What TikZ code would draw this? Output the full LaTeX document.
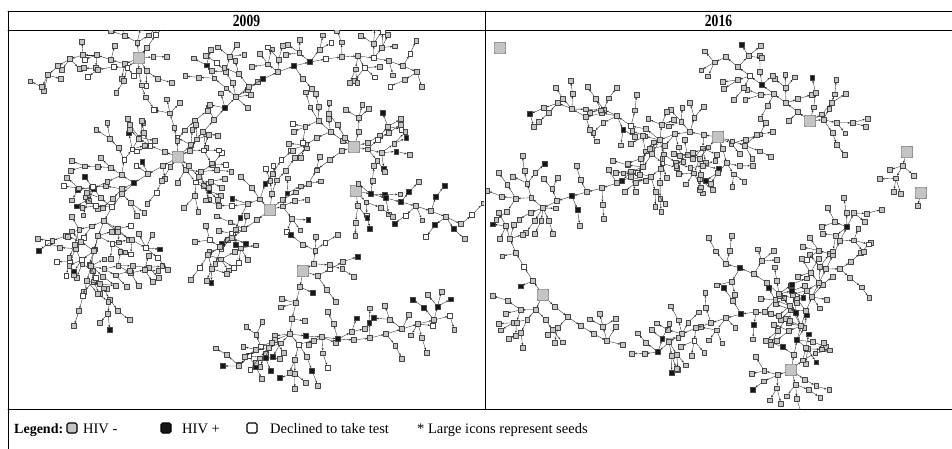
\documentclass[tikz,border=0pt]{standalone}
\usepackage{fontspec}
\setmainfont{Liberation Serif}
\usepackage{graphicx}
\usetikzlibrary{arrows.meta}

\definecolor{negfill}{RGB}{196,196,196}
\definecolor{posfill}{RGB}{22,22,22}
\definecolor{nodeline}{RGB}{70,70,70}

\tikzset{
  rds/.style={draw=nodeline,line width=.4pt,minimum size=4.8pt,inner sep=0pt,fill=negfill},
  seedsq/.style={rds,minimum size=11.5pt,rounded corners=1pt},
  link/.style={draw=black!85,line width=.35pt,-{Stealth[length=2.3pt,width=1.9pt]}},
  frame/.style={line width=.8pt},
  yearhead/.style={font=\fontsize{17}{17}\selectfont\bfseries},
  legbox/.style={draw=black,line width=1.1pt,rounded corners=1.6pt,minimum size=10pt,inner sep=0pt},
  legtext/.style={anchor=base west,inner sep=0pt,font=\fontsize{14.5}{15}\selectfont}
}

\newcounter{rdsnode}
% fill of a recruit: #1 share HIV+, #2 share declined
\newcommand\pickfill[2]{%
  \pgfmathsetmacro\rr{rnd}%
  \ifdim\rr pt<#1pt \def\fc{posfill}%
  \else\ifdim\rr pt<\dimexpr#1pt+#2pt\relax \def\fc{white}%
  \else \def\fc{negfill}\fi\fi}
% recruitment waves: #1 recruiter, #2 x, #3 y, #4 heading, #5 waves, #6 HIV+, #7 declined
\newcommand\recruit[7]{%
  \ifnum#5>0
    \ifnum#5>2 \pgfmathrandominteger\nk{1}{5}%
      \ifnum\nk>3 \pgfmathrandominteger\nk{1}{2}\fi
    \else \pgfmathrandominteger\nk{0}{4}\ifnum\nk=4 \def\nk{1}\fi\fi
    \ifnum\nk>0
      \foreach \k in {1,...,\nk}{%
        \stepcounter{rdsnode}\edef\me{r\arabic{rdsnode}}%
        \pgfmathsetmacro\na{#4+55*(\k-(\nk+1)/2)+20*rand}%
        \pgfmathsetmacro\nl{12.5+4*rnd}%
        \pgfmathsetmacro\nx{#2+\nl*cos(\na)}%
        \pgfmathsetmacro\ny{#3+\nl*sin(\na)}%
        \pickfill{#6}{#7}%
        \node[rds,fill=\fc] (\me) at (\nx,\ny) {};
        \draw[link] (#1) -- (\me);
        \edef\next{\noexpand\recruit{\me}{\nx}{\ny}{\na}{\the\numexpr#5-1\relax}{#6}{#7}}\next
      }%
    \fi
  \fi}
% chain of recruits through fixed points: #1 start node, #2 x, #3 y, #4 points, #5 side waves, #6 HIV+, #7 declined
\newcommand\spine[7]{%
  \xdef\prev{#1}\xdef\px{#2}\xdef\py{#3}%
  \foreach \sx/\sy [count=\si] in {#4}{%
    \stepcounter{rdsnode}\edef\me{r\arabic{rdsnode}}%
    \pickfill{#6}{#7}%
    \node[rds,fill=\fc] (\me) at (\sx,\sy) {};
    \draw[link] (\prev) -- (\me);
    \pgfmathsetmacro\hd{atan2(\sy-\py,\sx-\px)+(mod(\si,2)==0?80:-80)}%
    \edef\next{\noexpand\recruit{\me}{\sx}{\sy}{\hd}{#5}{#6}{#7}}\next
    \xdef\prev{\me}\xdef\px{\sx}\xdef\py{\sy}%
  }}
\newcommand\branchhere[4]{\edef\next{\noexpand\recruit{\prev}{\px}{\py}{#1}{#2}{#3}{#4}}\next}
\newcommand\markjunction{\xdef\jn{\prev}\xdef\jx{\px}\xdef\jy{\py}}

\begin{document}
\begin{tikzpicture}[x=1pt,y=-1pt,line cap=round,line join=round]
  \useasboundingbox (0,0) rectangle (952,449);
  % table frame
  \draw[frame] (8,11) -- (952,11) (8,30) -- (952,30) (8,409) -- (952,409);
  \draw[frame] (8,11) -- (8,449) (485,11) -- (485,409);
  \node[yearhead] (y09) at (246.5,21) {\scalebox{.8}[1]{2009}};
  \node[yearhead] (y16) at (718.5,21) {\scalebox{.8}[1]{2016}};

  % 2009 network
  \begin{scope}
    \clip (9,31) rectangle (484,408);
    \pgfmathsetseed{7}
    \node[seedsq] (s1) at (139,58) {};
    \spine{s1}{139}{58}{125/64,111/60,97/55,83/55,70/59,58/66,48/75,42/87}{1}{.04}{.12}
    \recruit{s1}{139}{58}{285}{3}{.04}{.12}
    \recruit{s1}{139}{58}{10}{3}{.04}{.12}
    \recruit{s1}{139}{58}{115}{4}{.04}{.12}

    \pgfmathsetseed{21}
    \node[seedsq] (s2) at (178,157) {};
    \spine{s2}{178}{157}{191/145,203/132,214/120}{1}{.05}{.12}
    \spine{\prev}{\px}{\py}{225/108,236/97}{1}{.05}{.12}
    \branchhere{265}{4}{.05}{.12}
    \spine{\prev}{\px}{\py}{249/87,263/79,278/72,294/66,310/62,326/59,342/57,358/56,374/58,389/61,403/66,417/72}{2}{.05}{.12}
    \spine{s2}{178}{157}{163/166,148/174,134/183}{1}{.07}{.12}
    \branchhere{185}{5}{.07}{.12}
    \spine{\prev}{\px}{\py}{122/194,112/207,104/221}{2}{.07}{.12}
    \markjunction
    \branchhere{150}{5}{.07}{.12}
    \spine{\prev}{\px}{\py}{98/236,94/251,91/266}{2}{.07}{.12}
    \branchhere{45}{5}{.07}{.12}
    \spine{\prev}{\px}{\py}{87/281,83/296,79/311,74/326}{2}{.07}{.12}
    \recruit{s2}{178}{157}{225}{4}{.07}{.12}
    \recruit{s2}{178}{157}{95}{4}{.07}{.12}
    \recruit{s2}{178}{157}{10}{3}{.07}{.12}
    \spine{\jn}{\jx}{\jy}{118/232,132/240,146/248,158/258,168/270}{1}{.07}{.12}

    \pgfmathsetseed{33}
    \node[seedsq] (s3) at (354,147) {};
    \recruit{s3}{354}{147}{180}{5}{.1}{.12}
    \recruit{s3}{354}{147}{260}{3}{.1}{.12}
    \recruit{s3}{354}{147}{0}{4}{.1}{.12}

    \pgfmathsetseed{45}
    \node[seedsq] (s4) at (356,191) {};
    \spine{s4}{356}{191}{371/194,386/198,401/202,416/206,431/211,446/217,461/224}{2}{.35}{.08}
    \recruit{s4}{356}{191}{60}{3}{.35}{.08}

    \pgfmathsetseed{52}
    \node[seedsq] (s5) at (270,210) {};
    \recruit{s5}{270}{210}{270}{5}{.08}{.12}
    \spine{s5}{270}{210}{257/220,244/229,232/238,220/247,208/255}{2}{.08}{.12}
    \recruit{s5}{270}{210}{0}{3}{.08}{.12}

    \pgfmathsetseed{64}
    \node[seedsq] (s6) at (303,271) {};
    \spine{s6}{303}{271}{300/287,296/303,292/319,290/334}{1}{.15}{.12}
    \markjunction
    \spine{\jn}{\jx}{\jy}{275/340,261/347,249/356,239/366}{2}{.15}{.12}
    \spine{\jn}{\jx}{\jy}{306/336,322/337,338/339,354/340,370/338,386/334,402/329,418/324,434/320,450/316}{2}{.15}{.12}
    \recruit{\jn}{\jx}{\jy}{95}{4}{.15}{.12}
    \recruit{s6}{303}{271}{10}{4}{.15}{.12}
  \end{scope}

  % 2016 network
  \begin{scope}
    \clip (486,31) rectangle (951,408);
    \node[seedsq] (t0) at (500,48) {};

    \pgfmathsetseed{71}
    \node[seedsq] (t1) at (718,137) {};
    \spine{t1}{718}{137}{704/135,690/132,675/134,660/140}{2}{.04}{.02}
    \markjunction
    \spine{\jn}{\jx}{\jy}{646/129,631/126,617/116,602/113,586/117,572/109,558/103,544/108,530/114}{2}{.04}{.02}
    \spine{\jn}{\jx}{\jy}{652/154,643/167,631/177,617/183,602/188,587/192,572/196,557/201,543/208}{2}{.04}{.02}
    \branchhere{150}{4}{.04}{.02}
    \recruit{\jn}{\jx}{\jy}{100}{5}{.04}{.02}
    \recruit{t1}{718}{137}{30}{4}{.04}{.02}
    \recruit{t1}{718}{137}{85}{4}{.04}{.02}

    \pgfmathsetseed{83}
    \node[seedsq] (t2) at (810,121) {};
    \spine{t2}{810}{121}{798/112,786/103,774/94,762/85,750/76,738/67,726/57}{2}{.1}{.02}
    \recruit{t2}{810}{121}{0}{4}{.1}{.02}
    \recruit{t2}{810}{121}{320}{3}{.1}{.02}

    \pgfmathsetseed{95}
    \node[seedsq] (t3) at (907,152) {};
    \recruit{t3}{907}{152}{120}{3}{.05}{0}
    \node[seedsq] (t4) at (921,193) {};
    \recruit{t4}{921}{193}{100}{3}{.1}{0}

    \pgfmathsetseed{104}
    \node[seedsq] (t5) at (543,295) {};
    \spine{t5}{543}{295}{533/281,524/267,516/253,510/239,506/226}{1}{.06}{.02}
    \spine{t5}{543}{295}{555/307,568/317,581/326,594/334,607/341}{2}{.06}{.02}
    \recruit{t5}{543}{295}{100}{4}{.06}{.02}

    \pgfmathsetseed{117}
    \node[seedsq] (t6) at (791,370) {};
    \spine{t6}{791}{370}{794/355,797/340,801/326}{2}{.1}{.02}
    \markjunction
    \spine{\jn}{\jx}{\jy}{806/311,812/297,819/283,826/269}{2}{.1}{.02}
    \branchhere{0}{4}{.1}{.02}
    \spine{\prev}{\px}{\py}{833/255,840/241,847/227,854/213}{2}{.1}{.02}
    \spine{\jn}{\jx}{\jy}{786/319,771/314,756/312,741/314,726/318,711/323,696/328,682/334,669/342,658/352}{2}{.1}{.02}
    \recruit{t6}{791}{370}{30}{3}{.1}{.02}
    \recruit{t6}{791}{370}{150}{3}{.1}{.02}
    \spine{\jn}{\jx}{\jy}{790/306,779/294,767/283,754/274,740/268,726/264}{2}{.1}{.02}
  \end{scope}

  % legend
  \node[legtext,font=\fontsize{14}{15}\selectfont\bfseries] (leg) at (14,433) {Legend:};
  \node[legbox,fill=negfill] (kneg) at (72,428) {};
  \node[legtext] (tneg) at (83,433) {HIV -};
  \node[legbox,fill=posfill] (kpos) at (166,428) {};
  \node[legtext] (tpos) at (182,433) {HIV +};
  \node[legbox,fill=white] (kdec) at (252,428) {};
  \node[legtext] (tdec) at (270,433) {Declined to take test};
  \node[legtext] (tseed) at (417,433) {* Large icons represent seeds};
\end{tikzpicture}
\end{document}
